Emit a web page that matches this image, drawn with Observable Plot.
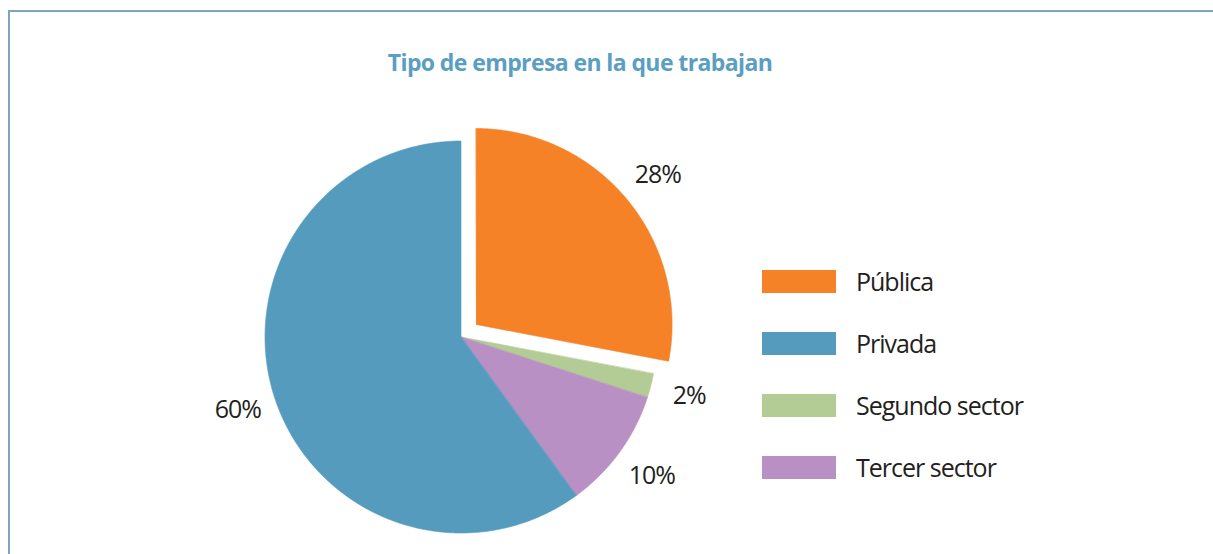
<!DOCTYPE html>
<html>
<head>
<meta charset="utf-8">
<script src="https://cdn.jsdelivr.net/npm/d3@7"></script>
<script src="https://cdn.jsdelivr.net/npm/@observablehq/plot@0.6"></script>
<style>
  html, body { margin: 0; padding: 0; background: #fff; }
  #page { position: relative; width: 1213px; height: 554px; overflow: hidden; font-family: "Open Sans", sans-serif; color: #231f20; }
  #frame { position: absolute; left: 8px; top: 10px; width: 1210px; height: 560px; border-top: 2px solid #7fa4bd; border-left: 2px solid #7fa4bd; box-sizing: border-box; }
  #title { position: absolute; left: 580px; top: 46px; transform: translateX(-50%); white-space: nowrap; font-weight: 700; font-size: 23px; color: #5a9ec2; letter-spacing: -0.6px; }
  #chart { position: absolute; left: 0; top: 0; }
  #chart text { letter-spacing: -1px; }
  .leg { position: absolute; left: 762px; height: 62px; display: flex; align-items: center; }
  .sw { width: 74px; height: 23px; margin-right: 20px; }
  .lab { font-size: 25px; letter-spacing: -1px; white-space: nowrap; }
</style>
</head>
<body>
<div id="page">
  <div id="frame"></div>
  <div id="chart"></div>
  <div id="title">Tipo de empresa en la que trabajan</div>
  <div id="legend"></div>
</div>
<script>
// Data
const title = "Tipo de empresa en la que trabajan";
const categories = ["Pública", "Privada", "Segundo sector", "Tercer sector"];
const values = [28, 60, 2, 10];
const colors = ["#f58226", "#559bbe", "#b3cc96", "#b890c3"];
// clockwise order of slices from 12 o'clock
const sliceOrder = ["Pública", "Segundo sector", "Tercer sector", "Privada"];
const explodedCategory = "Pública";

const W = 1213, H = 554;
const cx = 461, cy = 337, R = 196; // layout
const explodeDist = 0.1, labelDist = 1.2;

const valueOf = Object.fromEntries(categories.map((c, i) => [c, values[i]]));
const ordered = sliceOrder.map(c => ({cat: c, value: valueOf[c]}));
const arcs = d3.pie().sort(null).value(d => d.value)(ordered);

const areaPts = [];
const labels = [];
for (const a of arcs) {
  const mid = (a.startAngle + a.endAngle) / 2;
  const off = a.data.cat === explodedCategory ? explodeDist : 0;
  const ox = off * Math.sin(mid), oy = off * Math.cos(mid);
  const n = Math.max(4, Math.ceil((a.endAngle - a.startAngle) / 0.005));
  for (let i = 0; i <= n; i++) {
    const t = a.startAngle + (a.endAngle - a.startAngle) * i / n;
    areaPts.push({cat: a.data.cat, x1: ox + Math.sin(t), y1: oy + Math.cos(t), x2: ox, y2: oy});
  }
  labels.push({cat: a.data.cat, x: ox + labelDist * Math.sin(mid), y: oy + labelDist * Math.cos(mid), text: a.data.value + "%"});
}

const chart = Plot.plot({
  width: W, height: H,
  margin: 0,
  x: {domain: [-cx / R, (W - cx) / R], axis: null},
  y: {domain: [-(H - cy) / R, cy / R], axis: null},
  color: {domain: categories, range: colors},
  style: {background: "transparent"},
  marks: [
    Plot.area(areaPts, {x1: "x1", y1: "y1", x2: "x2", y2: "y2", z: "cat", fill: "cat", stroke: "cat", strokeWidth: 0.6, curve: "linear"}),
    Plot.text(labels, {x: "x", y: "y", text: "text", fontSize: 25, fill: "#231f20", fontFamily: "Open Sans", textAnchor: "middle", lineAnchor: "middle"})
  ]
});
document.getElementById("chart").appendChild(chart);

const legend = document.getElementById("legend");
categories.forEach((c, i) => {
  const row = document.createElement("div");
  row.className = "leg";
  row.style.top = (250 + i * 62) + "px";
  const sw = document.createElement("div");
  sw.className = "sw";
  sw.style.background = colors[i];
  const lab = document.createElement("div");
  lab.className = "lab";
  lab.textContent = c;
  row.appendChild(sw); row.appendChild(lab);
  legend.appendChild(row);
});
</script>
</body>
</html>
